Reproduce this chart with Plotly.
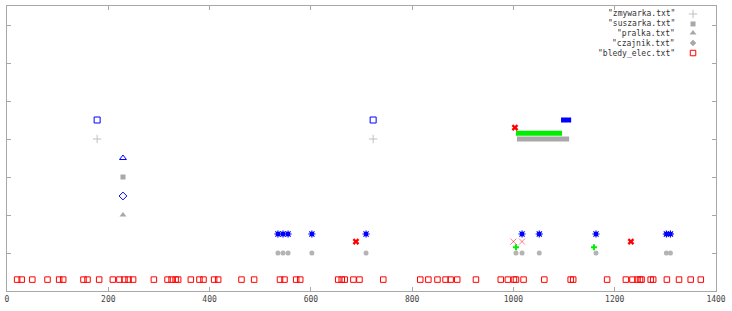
import plotly.graph_objects as go

# ---- data ----
zmywarka_x = [178, 723]
zmywarka_y = [4, 4]
zmywarka_run = [1007, 1110]          # dense run at y=4
suszarka_x = [229]
suszarka_y = [3]
pralka_x = [229]
pralka_y = [2]
czajnik_x = [535, 545, 555, 602, 709, 1005, 1017, 1051, 1163, 1302, 1310]
czajnik_y = [1] * len(czajnik_x)

det_sq_x = [178, 723]; det_sq_y = [4.5, 4.5]
det_run = [1094, 1114]                 # dense run at y=4.5
det_tri_x = [229]; det_tri_y = [3.5]
det_dia_x = [229]; det_dia_y = [2.5]
det_ast_x = [535, 545, 555, 602, 709, 1017, 1051, 1163, 1302, 1310]
det_ast_y = [1.5] * len(det_ast_x)

green_run = [1005, 1096]               # dense run at y=4.15
green_x = [1005, 1159]; green_y = [1.15, 1.15]
red_x = [689, 1232, 1003]; red_y = [1.3, 1.3, 4.3]
pink_x = [1000, 1017]; pink_y = [1.3, 1.3]

bledy_x = [20, 29, 50, 80, 103, 111, 151, 159, 182, 209, 222, 232, 240, 249, 290,
           317, 325, 333, 338, 363, 380, 388, 409, 417, 463, 488, 539, 548, 571, 579,
           654, 661, 667, 684, 696, 743, 816, 832, 850, 866, 876, 889, 926, 975, 989,
           1001, 1005, 1020, 1061, 1113, 1118, 1185, 1222, 1235, 1245, 1250, 1253,
           1271, 1276, 1303, 1327, 1350, 1370]
bledy_y = [0.3] * len(bledy_x)

legend_names = ['"zmywarka.txt"', '"suszarka.txt"', '"pralka.txt"', '"czajnik.txt"', '"bledy_elec.txt"']
x_ticks = [0, 200, 400, 600, 800, 1000, 1200, 1400]
y_ticks = [1, 2, 3, 4, 5, 6, 7]

GRAY = "#a8a8a8"
BLUE = "#0000ff"
RED = "#ff0000"
GREEN = "#00ee00"
FONT = "DejaVu Sans Mono"

fig = go.Figure()

def pts(x, y, symbol, size, color, lw=1.0, **kw):
    fig.add_trace(go.Scatter(x=x, y=y, mode="markers",
                             marker=dict(symbol=symbol, size=size, color=color,
                                         line=dict(color=color, width=lw)),
                             showlegend=False, hoverinfo="skip", **kw))

def run(r, y, color, w):
    fig.add_trace(go.Scatter(x=r, y=[y, y], mode="lines", line=dict(color=color, width=w),
                             showlegend=False, hoverinfo="skip"))

# runs
run(zmywarka_run, 4, GRAY, 5)
run(green_run, 4.15, GREEN, 5)
run(det_run, 4.5, BLUE, 5)

pts(zmywarka_x, zmywarka_y, "cross-thin-open", 6, "#c0c0c0")
pts(suszarka_x, suszarka_y, "square", 5, GRAY, 0)
pts(pralka_x, pralka_y, "triangle-up", 6, GRAY, 0)
pts(czajnik_x, czajnik_y, "circle", 5, "#b4b4b4", 0)

pts(det_sq_x, det_sq_y, "square-open", 6, BLUE, 1)
pts(det_tri_x, det_tri_y, "triangle-up-open", 6, BLUE, 1)
pts(det_dia_x, det_dia_y, "diamond-open", 6, BLUE, 1)
pts(det_ast_x, det_ast_y, "square", 4, BLUE, 0)
pts(det_ast_x, det_ast_y, "asterisk-open", 6, BLUE, 1.2)

pts(green_x, green_y, "cross", 5, GREEN, 0)
pts(pink_x, pink_y, "x-thin-open", 6, "rgba(255,0,0,0.5)", 1)
pts(red_x, red_y, "x", 6, RED, 0)

pts(bledy_x, bledy_y, "square-open", 5.5, RED, 1)

# legend (overlay axes in 0..1 units)
leg_y = [0.972, 0.937, 0.905, 0.870, 0.835]
leg_sym = [("cross-thin-open", 6, "#c0c0c0", 1), ("square", 5, GRAY, 0),
           ("triangle-up", 6, GRAY, 0), ("diamond", 5, GRAY, 0), ("square-open", 5.5, RED, 1)]
for name, yy, (s, sz, c, lw) in zip(legend_names, leg_y, leg_sym):
    pts([0.9676], [yy], s, sz, c, lw, xaxis="x2", yaxis="y2")
    fig.add_annotation(x=0.945, y=yy, xref="paper", yref="paper", text=name, showarrow=False,
                       xanchor="right", yanchor="middle", font=dict(family=FONT, size=8, color="#333"))

fig.update_layout(
    width=732, height=311, margin=dict(l=7, r=16, t=6, b=20, autoexpand=False),
    paper_bgcolor="white", plot_bgcolor="white", showlegend=False,
    xaxis=dict(range=[0, 1400], tickvals=x_ticks, ticks="inside", ticklen=4, tickcolor=GRAY,
               showline=True, linecolor=GRAY, linewidth=1, mirror="allticks", showgrid=False,
               zeroline=False, automargin=False,
               tickfont=dict(family=FONT, size=8, color="#444")),
    yaxis=dict(range=[0, 7.5], tickvals=y_ticks, ticks="inside", ticklen=4, tickcolor=GRAY,
               showline=True, linecolor=GRAY, linewidth=1, mirror="allticks", showgrid=False,
               zeroline=False, showticklabels=False, automargin=False),
    xaxis2=dict(range=[0, 1], overlaying="x", visible=False),
    yaxis2=dict(range=[0, 1], overlaying="y", visible=False),
)

fig.write_html("out.html")
